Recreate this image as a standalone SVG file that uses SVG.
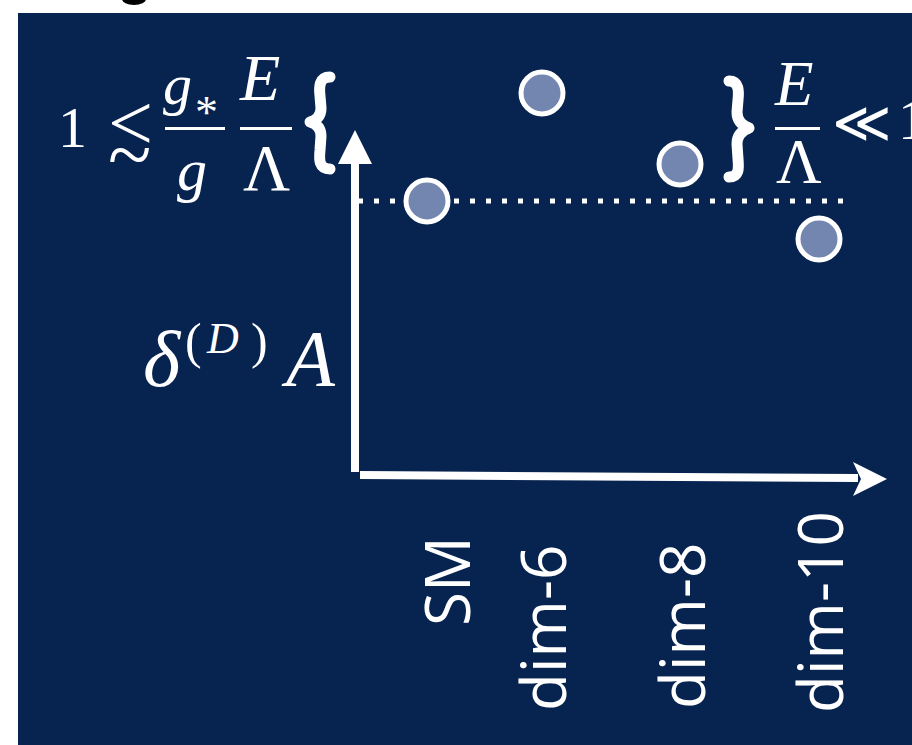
<svg xmlns="http://www.w3.org/2000/svg" width="912" height="745" viewBox="0 0 912 745">
<style>
.m{font-family:"Liberation Serif","DejaVu Serif",serif;fill:#fff}
.i{font-style:italic}
.s{font-family:"DejaVu Sans",sans-serif;fill:#fff}
.lab{font-family:"Open Sans","DejaVu Sans",sans-serif;font-size:62px;fill:#fff}
.pt{fill:#7286B0;stroke:#fff;stroke-width:5}
.brace{fill:none;stroke:#fff;stroke-width:11;stroke-linecap:round;stroke-linejoin:round}
</style>
<rect x="0" y="0" width="912" height="745" fill="#fff"/>
<ellipse cx="134" cy="-1" rx="12" ry="6" fill="#000"/>
<rect x="18" y="13" width="894" height="732" fill="#07234F"/>

<g id="connectors">
  <line x1="358" y1="201" x2="854" y2="201" stroke="#fff" stroke-width="5" stroke-dasharray="5 11"/>
  <rect x="351" y="160" width="8" height="312" fill="#fff"/>
  <polygon points="355,130 372,164 338,164" fill="#fff"/>
  <line x1="360" y1="475" x2="858" y2="478" stroke="#fff" stroke-width="8"/>
  <polygon points="887,479 853,462 861,479 853,496" fill="#fff"/>
</g>

<g id="node-sm"><circle class="pt" cx="427" cy="201" r="21"/></g>
<g id="node-dim6"><circle class="pt" cx="542" cy="93" r="21"/></g>
<g id="node-dim8"><circle class="pt" cx="680" cy="164" r="21"/></g>
<g id="node-dim10"><circle class="pt" cx="819" cy="239" r="21"/></g>

<g id="brace-left"><path class="brace" d="M330,77 C319,77 319,87 320,96 L321,108 C321,116 317,120 310,122 C317,124 321,128 321,136 L320,150 C319,160 319,169 330,169"/></g>
<g id="brace-right"><path class="brace" d="M729,81 C739,81 739,91 738,100 L737,112 C737,120 741,125 749,128 C741,131 737,136 737,144 L738,159 C739,169 739,177 729,177"/></g>

<g id="formula-left">
  <text class="m" x="58" y="147" font-size="58">1</text>
  <text class="m" x="108" y="150" font-size="80">&lt;</text>
  <text class="m" x="108" y="182" font-size="80">~</text>
  <text class="m i" x="163" y="104" font-size="58">g</text>
  <text class="m" x="195" y="128" font-size="46">*</text>
  <rect x="165" y="127" width="60" height="3" fill="#fff"/>
  <text class="m i" x="177" y="190" font-size="60">g</text>
  <text class="m i" x="240" y="100" font-size="66">E</text>
  <rect x="240" y="127" width="52" height="3" fill="#fff"/>
  <text class="m" x="243" y="190" font-size="65">Λ</text>
</g>

<g id="formula-right">
  <text class="m i" x="775" y="105" font-size="63">E</text>
  <rect x="775" y="127" width="45" height="3" fill="#fff"/>
  <text class="m" x="776" y="183" font-size="63">Λ</text>
  <text class="s" x="832" y="142" font-size="57" font-weight="200">≪</text>
  <text class="m" x="898" y="139" font-size="58">1</text>
</g>

<g id="y-label">
  <text class="m i" x="143" y="386" font-size="80">δ</text>
  <text class="m" x="185" y="358" font-size="50">(</text>
  <text class="m i" x="207" y="353" font-size="44">D</text>
  <text class="m" x="251" y="358" font-size="50">)</text>
  <text class="m i" x="286" y="386" font-size="80">A</text>
</g>

<g id="x-labels">
  <text class="lab" transform="translate(470,626) rotate(-90)">SM</text>
  <text class="lab" transform="translate(566,711) rotate(-90)">dim-6</text>
  <text class="lab" transform="translate(705,709) rotate(-90)">dim-8</text>
  <text class="lab" transform="translate(843,713) rotate(-90)">dim-10</text>
</g>
</svg>
